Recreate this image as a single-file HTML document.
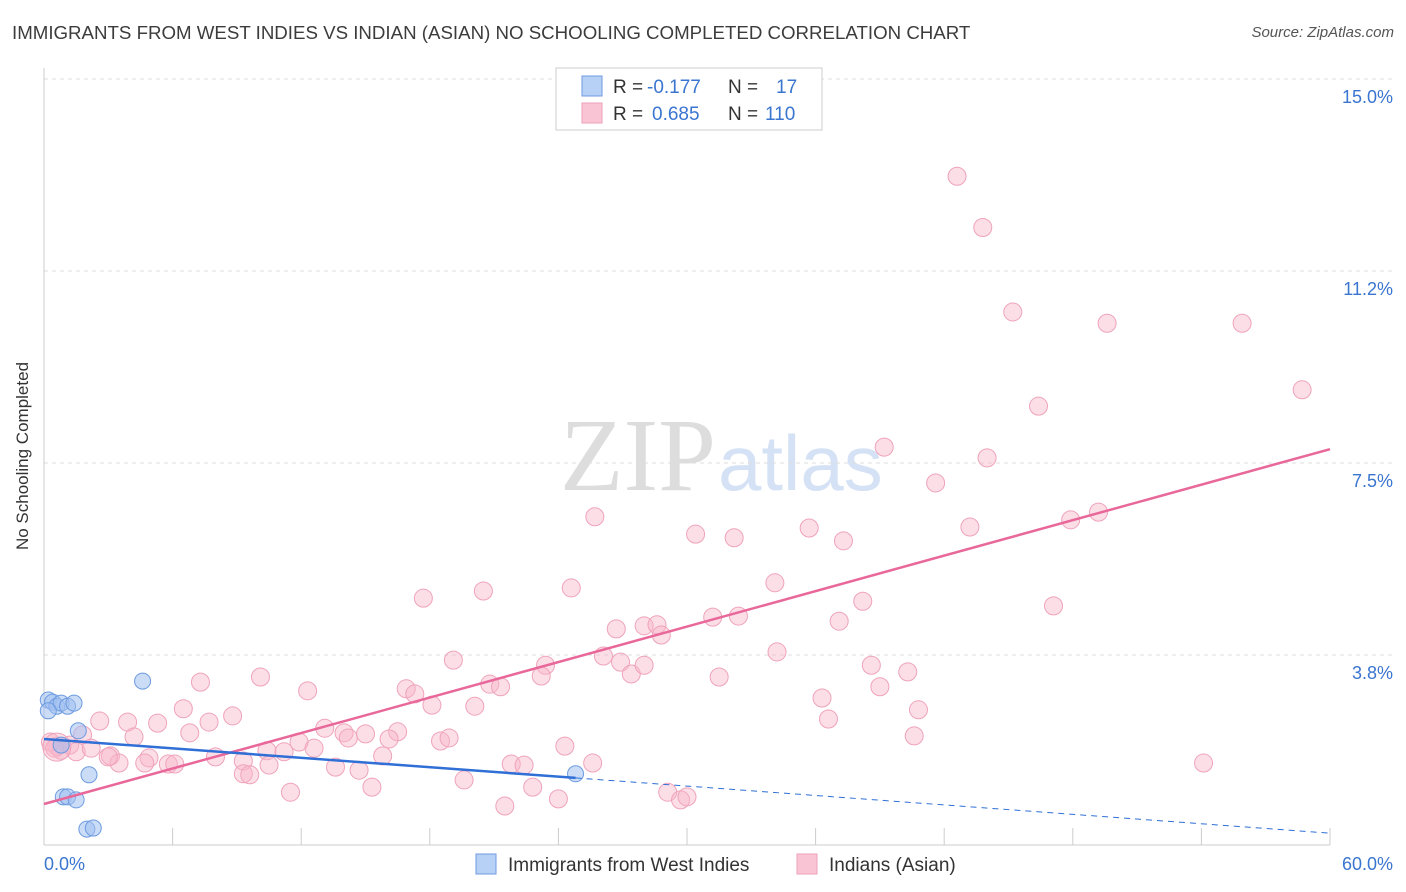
<!DOCTYPE html>
<html><head><meta charset="utf-8">
<style>
body{margin:0;background:#fff;font-family:"Liberation Sans",sans-serif;}
#wrap{position:relative;width:1406px;height:892px;overflow:hidden;}
.title{position:absolute;left:12px;top:22px;font-size:18.7px;color:#3c3c3c;}
.source{position:absolute;right:12px;top:24px;font-size:15px;color:#555;font-style:italic;}
</style></head><body>
<div id="wrap">
<div class="title">IMMIGRANTS FROM WEST INDIES VS INDIAN (ASIAN) NO SCHOOLING COMPLETED CORRELATION CHART</div>
<div class="source">Source: ZipAtlas.com</div>
<svg id="svg" width="1406" height="892" style="position:absolute;left:0;top:0">
<text x="716" y="490" text-anchor="end" font-family="Liberation Serif" font-size="104" fill="#ddd">ZIP</text>
<text x="718" y="490" font-family="Liberation Sans" font-size="78" fill="#d5e2f5">atlas</text>
<g id="grid"></g><g id="axes"></g><g id="marks"></g>
</svg>
<svg width="1406" height="892" style="position:absolute;left:0;top:0;pointer-events:none">
<rect x="556" y="68" width="266" height="62" fill="#fff" stroke="#ccc"/>
<rect x="582" y="76" width="20" height="20" fill="#b7d0f5" stroke="#6d9be0"/>
<rect x="582" y="103" width="20" height="20" fill="#f9c5d4" stroke="#eea0b8"/>
<text x="613" y="93" font-size="19" fill="#333">R = <tspan x="647" fill="#3a75d0">-0.177</tspan><tspan x="728">N =</tspan><tspan x="776" fill="#3a75d0">17</tspan></text>
<text x="613" y="120" font-size="19" fill="#333">R = <tspan x="652" fill="#3a75d0">0.685</tspan><tspan x="728">N =</tspan><tspan x="765" fill="#3a75d0">110</tspan></text>
<text x="28" y="456" font-size="17" fill="#333" text-anchor="middle" transform="rotate(-90 28 456)">No Schooling Completed</text>
<rect x="476" y="854" width="20" height="20" fill="#b7d0f5" stroke="#6d9be0"/>
<text x="508" y="871" font-size="19" fill="#333">Immigrants from West Indies</text>
<rect x="797" y="854" width="20" height="20" fill="#f9c5d4" stroke="#eea0b8"/>
<text x="829" y="871" font-size="19" fill="#333">Indians (Asian)</text>
</svg>
</div>
<script>
const yTicks=[3.75,7.5,11.25,15];
const yTickLabels=["3.8%","7.5%","11.2%","15.0%"];
const xTickLabels=["0.0%","60.0%"];
const pinkX=[42.6,43.8,45.2,49.6,55.9,58.7,46.4,39.2,44.0,41.6,25.7,30.4,32.2,35.7,37.3,43.2,47.9,49.2,17.7,20.5,24.6,34.1,38.2,47.1,26.7,28.0,28.6,28.8,31.2,32.4,37.1,19.1,26.1,26.9,27.4,28.0,23.4,23.2,34.2,38.6,40.3,39.0,31.5,36.3,40.8,36.6,40.6,7.3,10.1,12.3,16.9,17.3,18.1,20.8,21.3,20.1,6.5,8.8,3.9,2.6,5.3,7.7,6.8,4.2,13.1,11.9,12.6,14.0,14.2,15.0,16.5,16.1,18.5,18.9,10.4,11.2,9.3,10.5,9.3,9.6,13.6,14.7,15.8,21.8,22.4,24.3,25.6,19.6,22.8,15.3,11.5,21.5,24.0,29.1,29.7,30.0,54.1,0.6,0.8,1.2,1.5,1.8,2.2,3.1,3.5,4.9,5.8,6.1,4.7,8.0,3.0,0.3,0.5,0.6];
const pinkY=[13.1,12.1,10.45,10.23,10.23,8.93,8.61,7.81,7.6,7.11,6.45,6.11,6.04,6.23,5.98,6.25,6.39,6.54,4.86,5.0,5.06,5.16,4.8,4.71,4.26,4.32,4.34,4.14,4.49,4.51,4.41,3.65,3.73,3.61,3.38,3.55,3.55,3.34,3.81,3.55,3.42,3.13,3.32,2.91,2.68,2.5,2.17,3.22,3.32,3.05,3.09,2.99,2.77,3.18,3.13,2.75,2.7,2.56,2.44,2.46,2.42,2.44,2.23,2.15,2.32,2.05,1.93,2.23,2.13,2.21,2.25,2.11,2.07,2.13,1.88,1.86,1.68,1.6,1.43,1.41,1.56,1.5,1.78,1.62,1.6,1.97,1.64,1.31,1.17,1.17,1.07,0.8,0.94,1.07,0.92,0.98,1.64,1.97,1.89,1.99,1.86,2.19,1.93,1.78,1.64,1.74,1.62,1.62,1.64,1.76,1.76,2.05,1.93,1.95];
const blueX=[0.2,0.4,0.6,0.8,1.1,0.2,1.4,4.6,1.6,2.1,0.9,1.1,1.5,2.0,2.3,24.8,0.8];
const blueY=[2.87,2.83,2.75,2.81,2.75,2.66,2.81,3.24,2.27,1.41,0.98,0.98,0.92,0.35,0.37,1.43,1.99];
const pinkTrend=[0.84,7.77];
const blueTrend=[2.11,0.27];
const blueSolidEnd=24.8;

const X=v=>44+v*(1286/60), Y=v=>847-v*51.2;
const NS="http://www.w3.org/2000/svg";
function mk(tag,attrs,parent){const e=document.createElementNS(NS,tag);for(const k in attrs)e.setAttribute(k,attrs[k]);document.getElementById(parent).appendChild(e);return e;}
yTicks.forEach((t,i)=>{
  const g=mk('line',{x1:44,x2:1393,y1:Y(t),y2:Y(t),stroke:'#ddd','stroke-dasharray':'4,4'},'grid');
  
  
  const l=mk('text',{x:1393,y:Y(t)+24,'text-anchor':'end','font-size':18,fill:'#3a75d0'},'grid');
  l.textContent=yTickLabels[i];
  
  
});
const ax=mk('line',{x1:44,x2:44,y1:68,y2:845,stroke:'#ccc'},'axes');


const xa=mk('line',{x1:44,x2:1330,y1:845,y2:845,stroke:'#ccc'},'axes');


for(let i=0;i<=10;i++){
  const t=mk('line',{x1:X(i*6),x2:X(i*6),y1:828,y2:845,stroke:'#ccc'},'axes');
  
  
}
[[0,'start',44],[60,'end',1393]].forEach((d,i)=>{
  const l=mk('text',{x:d[2],y:870,'text-anchor':d[1],'font-size':18,fill:'#3a75d0'},'axes');
  l.textContent=xTickLabels[i];
  
  
});
pinkX.forEach((x,i)=>{
  const c=mk('circle',{cx:X(x),cy:Y(pinkY[i]),r:i==pinkX.length-1?14:9,fill:'rgba(248,182,202,0.45)',stroke:'#efa3bb','stroke-width':1},'marks');
  
  
});
blueX.forEach((x,i)=>{
  const c=mk('circle',{cx:X(x),cy:Y(blueY[i]),r:8,fill:'rgba(160,192,240,0.55)',stroke:'#6d9be0','stroke-width':1},'marks');
  
  
});
const bAt=x=>blueTrend[0]+(blueTrend[1]-blueTrend[0])*x/60;
const pl=mk('line',{x1:X(0),y1:Y(pinkTrend[0]),x2:X(60),y2:Y(pinkTrend[1]),stroke:'#e8689a','stroke-width':2.5},'marks');


const bl=mk('line',{x1:X(0),y1:Y(bAt(0)),x2:X(blueSolidEnd),y2:Y(bAt(blueSolidEnd)),stroke:'#2f6fd6','stroke-width':2.5},'marks');


const bd=mk('line',{x1:X(blueSolidEnd),y1:Y(bAt(blueSolidEnd)),x2:X(60),y2:Y(bAt(60)),stroke:'#2f6fd6','stroke-width':1,'stroke-dasharray':'6,5'},'marks');


</script>
</body></html>
